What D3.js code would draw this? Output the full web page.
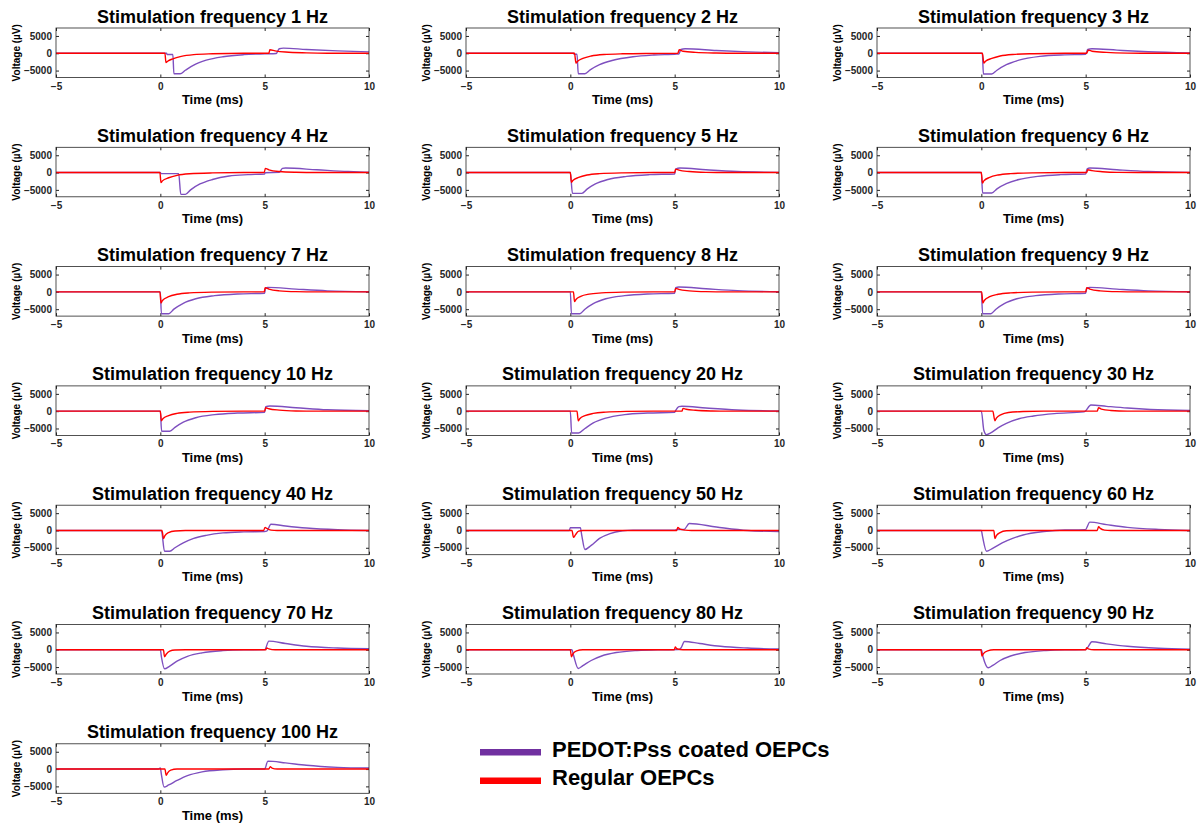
<!DOCTYPE html>
<html>
<head>
<meta charset="utf-8">
<script src="https://cdn.jsdelivr.net/npm/d3@7"></script>
<style>
  body { margin: 0; background: #fff; }
  svg { font-family: "Liberation Sans", Arial, sans-serif; font-weight: bold; }
  .tick text { font-size: 10px; fill: #262626; }
  .tick line { stroke: #262626; }
</style>
</head>
<body>
<svg width="1200" height="827"></svg>
<script>
// stimulation frequencies, one panel each
const freqs = [1, 2, 3, 4, 5, 6, 7, 8, 9, 10, 20, 30, 40, 50, 60, 70, 80, 90, 100];
const xTicks = [-5, 0, 5, 10];
const yTicks = [-5000, 0, 5000];
const seriesNames = ["PEDOT:Pss coated OEPCs", "Regular OEPCs"];

// [time ms, voltage µV], PEDOT:Pss coated traces
const pedot = [
  [[-5,0],[0.3,0],[0.32,-350],[0.6,-350],[0.65,-5900],[0.95,-5900],[1.2,-4900],[1.6,-3400],[2.2,-2000],[3,-1000],[4,-400],[5,-150],[5.55,-50],[5.7,1300],[5.9,1500],[7,1100],[8.5,700],[10,400]],
  [[-5,0],[0.15,0],[0.18,-300],[0.32,-300],[0.38,-5900],[0.7,-5900],[0.95,-4800],[1.4,-3300],[2,-2100],[3,-1000],[4,-500],[5.1,-250],[5.2,-200],[5.3,1100],[5.5,1300],[7,800],[8.5,400],[10,150]],
  [[-5,0],[0,0],[0.05,-300],[0.1,-6000],[0.5,-6000],[0.75,-4900],[1.2,-3300],[1.8,-2000],[2.8,-900],[4,-450],[5,-300],[5.1,1100],[5.3,1300],[6.5,900],[8,450],[10,100]],
  [[-5,0],[0,0],[0.03,-300],[0.88,-300],[0.98,-6300],[1.2,-6300],[1.45,-5000],[1.9,-3300],[2.5,-2000],[3.3,-1000],[4.2,-600],[5,-400],[5.02,-50],[5.7,50],[5.85,1200],[6,1300],[7.5,800],[9,300],[10,100]],
  [[-5,0],[0,0],[0.1,-6000],[0.55,-6000],[0.8,-4800],[1.2,-3300],[1.8,-2000],[2.7,-1100],[3.8,-600],[5,-400],[5.05,1000],[5.25,1300],[6.5,800],[8,300],[10,50]],
  [[-5,0],[0,0],[0.06,-5900],[0.5,-5900],[0.75,-4700],[1.2,-3200],[1.8,-2000],[2.7,-1100],[3.8,-600],[5,-400],[5.07,1100],[5.2,1300],[6.5,800],[8,300],[10,50]],
  [[-5,0],[0,0],[0.05,-6300],[0.4,-6300],[0.65,-5000],[1.1,-3300],[1.7,-2000],[2.6,-1100],[3.7,-600],[5,-400],[5.04,1100],[5.15,1300],[6.5,800],[8,300],[10,50]],
  [[-5,0],[0,0],[0.05,-6300],[0.45,-6300],[0.7,-5000],[1.1,-3400],[1.7,-2000],[2.6,-1100],[3.7,-600],[5,-400],[5.05,1200],[5.2,1400],[6.5,900],[8,350],[10,50]],
  [[-5,0],[0,0],[0.06,-6300],[0.45,-6300],[0.7,-5000],[1.1,-3400],[1.7,-2000],[2.6,-1100],[3.7,-600],[5,-400],[5.06,1100],[5.2,1300],[6.5,800],[8,300],[10,50]],
  [[-5,0],[0,0],[0.06,-5800],[0.45,-5800],[0.7,-4700],[1.1,-3200],[1.7,-1900],[2.6,-1000],[3.7,-550],[5,-350],[5.05,1300],[5.25,1500],[6.5,1000],[8,400],[10,100]],
  [[-5,0],[0,0],[0.06,-6300],[0.4,-6300],[0.7,-5000],[1.1,-3400],[1.7,-2000],[2.6,-1000],[3.7,-550],[5,-350],[5.05,200],[5.2,1300],[5.35,1400],[6.5,900],[8,350],[10,50]],
  [[-5,0],[0,0],[0.12,-5500],[0.25,-6800],[0.45,-6300],[0.8,-4800],[1.2,-3500],[1.8,-2200],[2.5,-1400],[3.5,-700],[4.9,-200],[4.95,-150],[5.25,1800],[6,1400],[7,900],[8.1,500],[10,200]],
  [[-5,0],[0.05,0],[0.2,-6000],[0.45,-6000],[0.7,-5000],[1.1,-3600],[1.6,-2300],[2.2,-1400],[3,-700],[4,-400],[5,-300],[5.1,-200],[5.3,1800],[6,1300],[7,700],[8.5,200],[10,0]],
  [[-5,0],[-0.05,0],[0,800],[0.48,800],[0.55,-1500],[0.7,-5500],[1,-4300],[1.4,-2300],[1.9,-900],[2.5,-100],[3,100],[5,100],[5.1,300],[5.45,300],[5.7,2000],[7,1000],[8.5,0],[10,-300]],
  [[-5,0],[0,0],[0.05,-1500],[0.25,-6000],[0.5,-5300],[1,-3600],[1.5,-2300],[2,-1300],[3,-300],[4,150],[4.98,200],[5.2,2400],[6,1700],[7,900],[8.5,300],[10,0]],
  [[-5,0],[0,0],[0.05,-2000],[0.2,-5500],[0.45,-4700],[0.8,-3300],[1.3,-1900],[2,-900],[3,-250],[4,0],[5,50],[5.2,2500],[6,1800],[7,1000],[8.5,500],[10,300]],
  [[-5,0],[0.08,0],[0.15,-1500],[0.38,-5400],[0.6,-4600],[1,-3100],[1.5,-1800],[2.2,-800],[3.2,-200],[4.2,0],[5.2,50],[5.3,500],[5.47,2400],[6.2,1800],[7.2,1000],[8.5,500],[10,200]],
  [[-5,0],[0,0],[0.08,-2000],[0.33,-5200],[0.55,-4500],[0.9,-3100],[1.4,-1800],[2.1,-800],[3.1,-200],[4,0],[5,50],[5.1,700],[5.3,2300],[6,1700],[7,1000],[8.5,450],[10,200]],
  [[-5,0],[-0.1,0],[0,300],[0.05,-1500],[0.18,-5200],[0.4,-4600],[0.8,-3300],[1.3,-1900],[2,-800],[3,-200],[4,0],[5,0],[5.15,2300],[6,1800],[7,1100],[8.5,500],[10,300]]
];

// regular OEPC traces
const regular = [
  [[-5,0],[0.22,0],[0.27,-2700],[0.35,-2300],[0.6,-1600],[1,-900],[1.6,-400],[2.5,-150],[4,0],[5.2,0],[5.25,1000],[5.5,700],[6,350],[7,100],[8,0],[10,0]],
  [[-5,0],[0.2,0],[0.27,-2800],[0.35,-2300],[0.6,-1500],[1,-800],[1.6,-350],[2.5,-150],[4,-50],[5.15,0],[5.22,1000],[5.4,600],[6,250],[7,60],[8,0],[10,0]],
  [[-5,0],[0.05,0],[0.12,-2800],[0.2,-2300],[0.5,-1500],[0.9,-800],[1.5,-350],[2.5,-120],[4,0],[5.05,0],[5.12,900],[5.3,600],[6,250],[7,50],[8,0],[10,0]],
  [[-5,0],[-0.02,0],[0.03,-2900],[0.1,-2400],[0.4,-1500],[0.8,-800],[1.4,-350],[2.5,-100],[4,0],[4.98,0],[5.03,1200],[5.2,800],[5.7,300],[6.5,80],[7.5,0],[10,0]],
  [[-5,0],[0,0],[0.05,-2800],[0.12,-2300],[0.4,-1400],[0.8,-700],[1.4,-300],[2.5,-80],[4,0],[5,0],[5.05,1000],[5.2,700],[5.7,300],[6.5,60],[7.5,0],[10,0]],
  [[-5,0],[0,0],[0.05,-3000],[0.12,-2400],[0.4,-1400],[0.8,-700],[1.4,-300],[2.5,-80],[4,0],[5.05,0],[5.1,800],[5.3,550],[5.8,250],[6.5,50],[7.5,0],[10,0]],
  [[-5,0],[-0.02,0],[0.03,-3200],[0.1,-2500],[0.4,-1400],[0.8,-700],[1.4,-300],[2.5,-80],[4,0],[4.98,0],[5.02,1200],[5.2,800],[5.7,300],[6.5,60],[7.5,0],[10,0]],
  [[-5,0],[0.15,0],[0.2,-2800],[0.27,-2200],[0.5,-1300],[0.9,-650],[1.5,-300],[2.5,-80],[4,0],[5,0],[5.05,1000],[5.2,700],[5.7,300],[6.5,60],[7.5,0],[10,0]],
  [[-5,0],[0.02,0],[0.07,-3200],[0.14,-2500],[0.4,-1400],[0.8,-700],[1.4,-300],[2.5,-80],[4,0],[5,0],[5.05,1200],[5.2,800],[5.7,300],[6.5,60],[7.5,0],[10,0]],
  [[-5,0],[0,0],[0.05,-2800],[0.12,-2200],[0.4,-1300],[0.8,-650],[1.4,-280],[2.5,-70],[4,0],[5,0],[5.05,1000],[5.2,700],[5.7,300],[6.5,60],[7.5,0],[10,0]],
  [[-5,0],[0.32,0],[0.38,-2800],[0.45,-2200],[0.7,-1300],[1.1,-650],[1.7,-280],[2.7,-70],[4,0],[5.35,0],[5.4,800],[5.55,550],[6,250],[6.8,50],[7.5,0],[10,0]],
  [[-5,0],[0.55,0],[0.65,-2800],[0.72,-2000],[0.95,-1000],[1.3,-400],[2,-100],[3,0],[5.55,0],[5.62,1000],[5.75,600],[6.2,200],[7,0],[10,0]],
  [[-5,0],[0.08,0],[0.15,-2300],[0.22,-1500],[0.4,-600],[0.7,-150],[1.2,0],[4.95,0],[5.02,900],[5.1,600],[5.3,100],[5.6,0],[10,0]],
  [[-5,0],[0.08,0],[0.15,-2000],[0.25,-1200],[0.4,-200],[0.6,0],[5.1,0],[5.15,900],[5.25,400],[5.5,100],[5.8,0],[10,0]],
  [[-5,0],[0.6,0],[0.65,-2300],[0.72,-1500],[0.9,-600],[1.2,-100],[1.6,0],[5.55,0],[5.62,1100],[5.7,600],[5.9,100],[6.2,0],[10,0]],
  [[-5,0],[0.15,0],[0.2,-2000],[0.28,-1300],[0.45,-400],[0.7,-50],[1.2,0],[5.05,0],[5.1,500],[5.2,250],[5.5,0],[10,0]],
  [[-5,0],[0,0],[0.05,-2000],[0.12,-1200],[0.3,-300],[0.6,0],[4.98,0],[5.03,800],[5.1,300],[5.4,0],[10,0]],
  [[-5,0],[-0.02,0],[0.03,-1800],[0.1,-1100],[0.3,-300],[0.6,0],[5,0],[5.05,600],[5.12,250],[5.4,0],[10,0]],
  [[-5,0],[0.22,0],[0.28,-1800],[0.35,-1100],[0.5,-300],[0.8,0],[5.2,0],[5.27,700],[5.35,300],[5.6,0],[10,0]]
];

const colors = ["#7e4fbf", "#ff0000"],
      legendColors = ["#7030a0", "#ff0000"];

const svg = d3.select("svg");

const colLeft = [56, 466, 877],
      plotW = 313,
      plotH = 49.5,
      rowStep = 119.3,
      top0 = 28;

const x = d3.scaleLinear().domain([-5, 10]).range([0, plotW]);
const y = d3.scaleLinear().domain([-7000, 7300]).range([plotH, 0]);

const line = d3.line()
    .x(d => x(d[0]))
    .y(d => y(d[1]))
    .curve(d3.curveMonotoneX);

freqs.forEach((f, i) => {
  let col = i % 3,
      row = Math.floor(i / 3);
  let g = svg.append("g")
      .attr("transform", `translate(${colLeft[col]},${top0 + row * rowStep})`);

  g.append("text")
      .attr("x", plotW / 2)
      .attr("y", -5.5)
      .attr("text-anchor", "middle")
      .style("font-size", "18px")
      .text(`Stimulation frequency ${f} Hz`);

  // inward ticks on all four sides, labels on bottom / left only
  g.append("g")
      .attr("transform", `translate(0,${plotH})`)
      .call(d3.axisBottom(x).tickValues(xTicks).tickSize(-3).tickPadding(5))
      .call(a => a.select(".domain").remove());
  g.append("g")
      .call(d3.axisTop(x).tickValues(xTicks).tickSize(-3).tickFormat(""))
      .call(a => a.select(".domain").remove());
  g.append("g")
      .call(d3.axisLeft(y).tickValues(yTicks).tickSize(-3).tickPadding(4).tickFormat(d3.format("d")))
      .call(a => a.select(".domain").remove());
  g.append("g")
      .attr("transform", `translate(${plotW},0)`)
      .call(d3.axisRight(y).tickValues(yTicks).tickSize(-3).tickFormat(""))
      .call(a => a.select(".domain").remove());

  g.selectAll("path.trace")
      .data([pedot[i], regular[i]])
      .enter().append("path")
      .attr("class", "trace")
      .attr("d", line)
      .attr("fill", "none")
      .attr("stroke", (d, k) => colors[k])
      .attr("stroke-width", 1.4)
      .attr("stroke-linejoin", "round");

  g.append("rect")
      .attr("width", plotW)
      .attr("height", plotH)
      .attr("fill", "none")
      .attr("stroke", "#262626")
      .attr("stroke-width", 0.8);

  g.append("text")
      .attr("x", plotW / 2)
      .attr("y", plotH + 26.5)
      .attr("text-anchor", "middle")
      .style("font-size", "13px")
      .text("Time (ms)");

  g.append("text")
      .attr("transform", `translate(-36,${plotH / 2}) rotate(-90)`)
      .attr("text-anchor", "middle")
      .style("font-size", "10px")
      .text("Voltage (µV)");
});

// legend
let legend = svg.append("g").attr("transform", "translate(480,752)");
seriesNames.forEach((name, k) => {
  legend.append("rect")
      .attr("x", 0)
      .attr("y", k * 28.5 - 3)
      .attr("width", 61)
      .attr("height", 6.5)
      .attr("fill", legendColors[k]);
  legend.append("text")
      .attr("x", 72)
      .attr("y", k * 28.5 + 4.5)
      .style("font-size", "22px")
      .text(name);
});
</script>
</body>
</html>
